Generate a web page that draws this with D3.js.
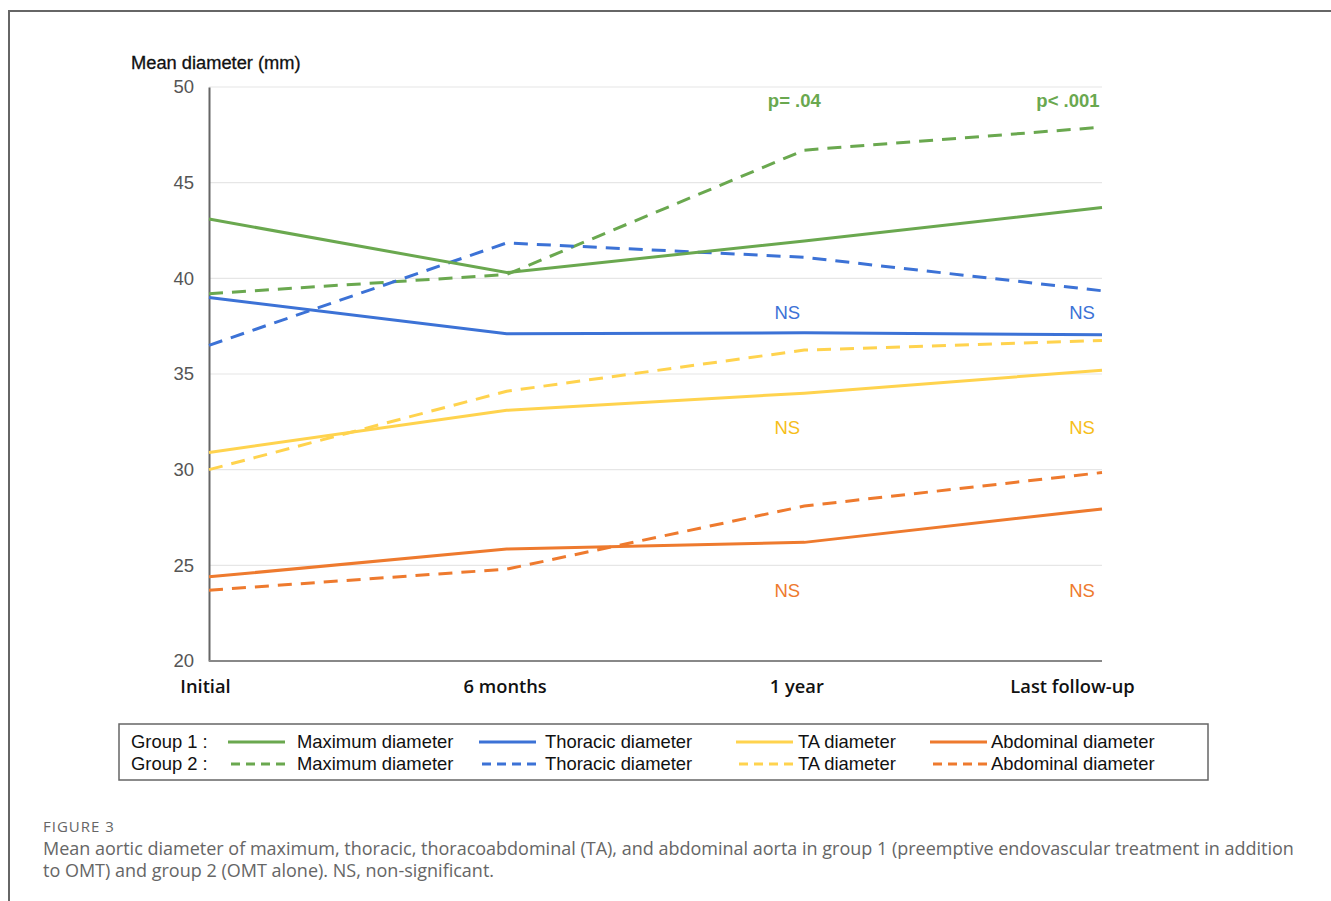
<!DOCTYPE html>
<html>
<head>
<meta charset="utf-8" />
<title>Figure 3</title>
<style>
html, body {
    margin: 0px;
    padding: 0px;
    background: #fff;
}
svg text { font-family: "Liberation Sans", Arial, sans-serif; }
</style>
</head>
<body>
<svg id="chart" width="1331" height="901"></svg>
<script src="https://cdnjs.cloudflare.com/ajax/libs/d3/7.8.5/d3.min.js"></script>
<script>
// time points
var periods = ["Initial", "6 months", "1 year", "Last follow-up"]
var yTicks = [20, 25, 30, 35, 40, 45, 50]

// mean diameters (mm), group 1 = solid, group 2 = dashed
var maxG1 = [43.1, 40.3, 41.95, 43.7]
var maxG2 = [39.2, 40.2, 46.7, 47.9]
var thorG1 = [39.0, 37.1, 37.15, 37.05]
var thorG2 = [36.5, 41.85, 41.1, 39.35]
var taG1 = [30.9, 33.1, 34.0, 35.2]
var taG2 = [30.0, 34.1, 36.25, 36.75]
var abdG1 = [24.4, 25.85, 26.2, 27.95]
var abdG2 = [23.7, 24.8, 28.1, 29.85]

var seriesNames = ["Maximum diameter", "Thoracic diameter", "TA diameter", "Abdominal diameter"]
var seriesColors = ["#6aa84f", "#3c72d6", "#ffd34e", "#ee7a2e"]

// significance labels at 1 year and last follow-up
var pLabels = [
    {text: ["p= .04", "p< .001"], at: 49.2, color: "#6aa84f", bold: true},
    {text: ["NS", "NS"], at: 38.15, color: "#3c72d6"},
    {text: ["NS", "NS"], at: 32.1, color: "#f6be1a"},
    {text: ["NS", "NS"], at: 23.6, color: "#ee7a2e"}
]

!(function(){
    "use strict"

    var svg = d3.select("#chart")

    // outer frame (top + left only)
    svg.append("path")
        .attr("d", "M9,901 V11 H1331")
        .attr("fill", "none")
        .attr("stroke", "#666")
        .attr("stroke-width", 2)

    var x = d3.scalePoint().domain(periods).range([209, 1102])
    var y = d3.scaleLinear().domain([20, 50]).range([661, 87])

    // gridlines
    svg.append("g")
        .selectAll("line")
        .data(yTicks.slice(1))
        .enter().append("line")
        .attr("x1", 209).attr("x2", 1102)
        .attr("y1", function(d){ return y(d) })
        .attr("y2", function(d){ return y(d) })
        .attr("stroke", "#e6e6e6")
        .attr("stroke-width", 1.2)

    // y axis
    var yAxis = svg.append("g")
        .attr("transform", "translate(209,0)")
        .call(d3.axisLeft(y).tickValues(yTicks).tickSize(0).tickPadding(15))
    yAxis.select(".domain").attr("stroke", "#666").attr("stroke-width", 2)
    yAxis.selectAll("text")
        .attr("fill", "#555")
        .style("font-size", "18.5px")

    // x axis
    var labelShift = {"Initial": -4, "6 months": -2, "1 year": -8, "Last follow-up": -30}
    var xAxis = svg.append("g")
        .attr("transform", "translate(0,661)")
        .call(d3.axisBottom(x).tickSize(0).tickPadding(19))
    xAxis.select(".domain").attr("d", "M209,0H1102").attr("stroke", "#888").attr("stroke-width", 2)
    xAxis.selectAll(".tick text")
        .attr("fill", "#111")
        .attr("dx", function(d){ return labelShift[d] })
        .style("font-family", "'Open Sans', sans-serif")
        .style("font-weight", 600)
        .style("font-size", "18.3px")

    svg.append("text")
        .attr("x", 131).attr("y", 69)
        .style("font-size", "18.3px")
        .attr("fill", "#111")
        .attr("stroke", "#111").attr("stroke-width", 0.3)
        .text("Mean diameter (mm)")

    var line = d3.line()
        .x(function(d, i){ return x(periods[i]) })
        .y(function(d){ return y(d) })

    var lines = [
        {v: maxG2, c: 0, dash: true}, {v: thorG2, c: 1, dash: true},
        {v: taG2, c: 2, dash: true}, {v: abdG2, c: 3, dash: true},
        {v: maxG1, c: 0}, {v: thorG1, c: 1}, {v: taG1, c: 2}, {v: abdG1, c: 3}
    ]

    svg.append("g")
        .selectAll("path")
        .data(lines)
        .enter().append("path")
        .attr("d", function(d){ return line(d.v) })
        .attr("fill", "none")
        .attr("stroke", function(d){ return seriesColors[d.c] })
        .attr("stroke-width", 3)
        .attr("stroke-dasharray", function(d){ return d.dash ? "14 9" : null })

    // p-value / NS labels
    pLabels.forEach(function(p){
        p.text.forEach(function(t, i){
            svg.append("text")
                .attr("x", x(periods[i + 2]) + (i === 1 ? (p.bold ? -34 : -20) : (p.bold ? -10 : -17)))
                .attr("y", y(p.at))
                .attr("text-anchor", "middle")
                .attr("dominant-baseline", "middle")
                .attr("fill", p.color)
                .style("font-size", "18.5px")
                .style("font-weight", p.bold ? 700 : 400)
                .text(t)
        })
    })

    // legend
    var lg = svg.append("g")
    lg.append("rect")
        .attr("x", 119).attr("y", 724)
        .attr("width", 1089).attr("height", 56)
        .attr("fill", "#fff")
        .attr("stroke", "#666").attr("stroke-width", 1.5)

    var rowsY = [742, 764]
    var lineX = [228, 479, 736, 930]
    var textX = [297, 545, 798, 991]
    ;["Group 1 :", "Group 2 :"].forEach(function(g, r){
        lg.append("text")
            .attr("x", 131).attr("y", rowsY[r] + 1)
            .attr("dominant-baseline", "middle")
            .attr("fill", "#111")
            .style("font-size", "18.4px")
            .text(g)
        seriesNames.forEach(function(n, k){
            lg.append("line")
                .attr("x1", lineX[k]).attr("x2", lineX[k] + 57)
                .attr("y1", rowsY[r]).attr("y2", rowsY[r])
                .attr("stroke", seriesColors[k])
                .attr("stroke-width", 3)
                .attr("stroke-dasharray", r ? "9 6" : null)
                .attr("stroke-dashoffset", r ? -3 : 0)
            lg.append("text")
                .attr("x", textX[k]).attr("y", rowsY[r] + 1)
                .attr("dominant-baseline", "middle")
                .attr("fill", "#111")
                .style("font-size", "18.4px")
                .text(n)
        })
    })

    // caption
    var cap = svg.append("g")
    cap.append("text")
        .attr("x", 43).attr("y", 832)
        .attr("fill", "#666")
        .style("font-family", "'Open Sans', sans-serif")
        .style("font-size", "15px")
        .style("letter-spacing", "1px")
        .text("FIGURE 3")
    cap.append("text")
        .attr("x", 43).attr("y", 855)
        .attr("fill", "#666")
        .style("font-family", "'Open Sans', sans-serif")
        .style("font-size", "18px")
        .text("Mean aortic diameter of maximum, thoracic, thoracoabdominal (TA), and abdominal aorta in group 1 (preemptive endovascular treatment in addition")
    cap.append("text")
        .attr("x", 43).attr("y", 877)
        .attr("fill", "#666")
        .style("font-family", "'Open Sans', sans-serif")
        .style("font-size", "18px")
        .text("to OMT) and group 2 (OMT alone). NS, non-significant.")
}());
</script>
</body>
</html>
